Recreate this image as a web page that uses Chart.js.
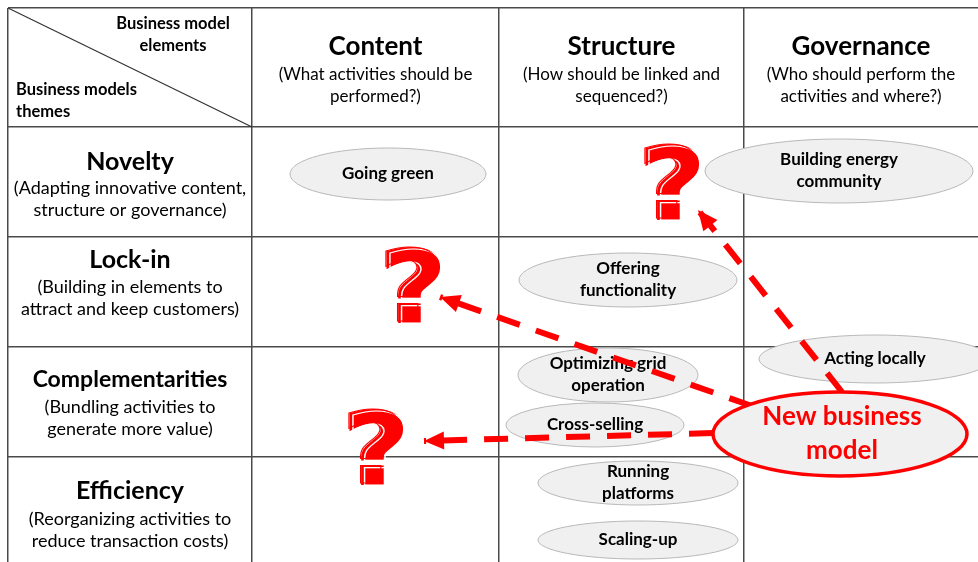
<!DOCTYPE html>
<html>
<head>
<meta charset="utf-8">
<script src="https://cdn.jsdelivr.net/npm/chart.js@4.4.1/dist/chart.umd.min.js"></script>
<style>
  body { margin: 0; background: #fff; }
  #wrap { width: 978px; height: 562px; }
</style>
</head>
<body>
<div id="wrap"><canvas id="grafico" width="978" height="562"></canvas></div>
<script>
// Datos de la matriz
const colTitles = ['Content', 'Structure', 'Governance'];
const colNotes = [
  ['(What activities should be', 'performed?)'],
  ['(How should be linked and', 'sequenced?)'],
  ['(Who should perform the', 'activities and where?)']
];
const rowTitles = ['Novelty', 'Lock-in', 'Complementarities', 'Efficiency'];
const rowNotes = [
  ['(Adapting innovative content,', 'structure or governance)'],
  ['(Building in elements to', 'attract and keep customers)'],
  ['(Bundling activities to', 'generate more value)'],
  ['(Reorganizing activities to', 'reduce transaction costs)']
];
const colEdges = [8, 252, 499, 744];
const rowEdges = [8, 127, 237, 347, 457];

// Actividades (elipses)
const activities = [
  ['Going green'],
  ['Building energy', 'community'],
  ['Offering', 'functionality'],
  ['Optimizing grid', 'operation'],
  ['Cross-selling'],
  ['Acting locally'],
  ['Running', 'platforms'],
  ['Scaling-up']
];
const activityX = [388, 839, 628, 608, 595, 875, 638, 638];
const activityY = [174, 171, 280, 375, 425, 359, 483, 540];
const activityRx = [98, 134, 109, 90, 89, 116, 100, 100];
const activityRy = [26, 32, 27, 27, 22, 24, 22, 19];

// Nuevo modelo de negocio
const centerLabel = ['New business', 'model'];
const centerX = 840, centerY = 434;

// Signos de pregunta y flechas
const questionX = [672, 413, 376];
const questionY = [193, 296, 458];
const arrowFrom = [[842, 392], [752, 406], [713, 433]];
const arrowTo = [[698, 210], [440, 297], [424, 441]];

// posición vertical del texto de cada tema
const titleY = [162, 260, 380, 491];
const noteY = [188, 287, 407, 519];

const FONT = 'Lato, "Open Sans", sans-serif';
const ROJO = '#ff0000';

const datasets = arrowFrom.map((p, i) => ({
  label: 'flecha' + i,
  data: [{ x: p[0], y: p[1] }, { x: arrowTo[i][0], y: arrowTo[i][1] }],
  showLine: true,
  borderColor: ROJO,
  borderWidth: 6,
  borderDash: [24, 17],
  borderCapStyle: 'butt',
  pointRadius: 0
}));
datasets.push({
  label: 'actividades',
  data: activityX.map((x, i) => ({ x: x, y: activityY[i] })),
  pointRadius: 0,
  showLine: false
});
datasets.push({
  label: 'centro',
  data: [{ x: centerX, y: centerY }],
  pointRadius: 0,
  showLine: false
});
datasets.push({
  label: 'preguntas',
  data: questionX.map((x, i) => ({ x: x, y: questionY[i] })),
  pointRadius: 0,
  showLine: false
});

function lines(ctx, arr, x, y, gap) {
  arr.forEach((t, i) => ctx.fillText(t, x, y + i * gap));
}

function ellipse(ctx, x, y, rx, ry, fill, stroke, lw) {
  ctx.beginPath();
  ctx.ellipse(x, y, rx, ry, 0, 0, Math.PI * 2);
  ctx.fillStyle = fill;
  ctx.fill();
  ctx.lineWidth = lw;
  ctx.strokeStyle = stroke;
  ctx.stroke();
}

const matriz = {
  id: 'matriz',
  beforeDatasetsDraw(chart) {
    const ctx = chart.ctx;
    const sx = chart.scales.x, sy = chart.scales.y;
    ctx.save();
    // diagonal
    ctx.beginPath();
    ctx.moveTo(sx.getPixelForValue(colEdges[0]), sy.getPixelForValue(rowEdges[0]));
    ctx.lineTo(sx.getPixelForValue(colEdges[1]), sy.getPixelForValue(rowEdges[1]));
    ctx.strokeStyle = '#333';
    ctx.lineWidth = 1.2;
    ctx.stroke();

    ctx.textBaseline = 'middle';
    ctx.fillStyle = '#000';
    ctx.font = 'bold 16.5px ' + FONT;
    ctx.textAlign = 'center';
    lines(ctx, ['Business model', 'elements'], sx.getPixelForValue(173), sy.getPixelForValue(24), 22);
    ctx.textAlign = 'left';
    lines(ctx, ['Business models', 'themes'], sx.getPixelForValue(16), sy.getPixelForValue(90), 22);

    // cabeceras de columnas
    ctx.textAlign = 'center';
    colTitles.forEach((t, i) => {
      const right = i + 2 < colEdges.length ? colEdges[i + 2] : 978;
      const cx = sx.getPixelForValue((colEdges[i + 1] + right) / 2);
      ctx.font = 'bold 26px ' + FONT;
      ctx.fillText(t, cx, sy.getPixelForValue(47));
      ctx.font = '17px ' + FONT;
      lines(ctx, colNotes[i], cx, sy.getPixelForValue(75), 22);
    });

    // temas
    const cx0 = sx.getPixelForValue((colEdges[0] + colEdges[1]) / 2);
    rowTitles.forEach((t, i) => {
      ctx.font = 'bold ' + (t.length > 12 ? 23 : 25) + 'px ' + FONT;
      ctx.fillText(t, cx0, sy.getPixelForValue(titleY[i]));
      ctx.font = '18px ' + FONT;
      lines(ctx, rowNotes[i], cx0, sy.getPixelForValue(noteY[i]), 22);
    });

    // actividades
    const meta = chart.getDatasetMeta(arrowFrom.length);
    meta.data.forEach((pt, i) => {
      const rx = sx.getPixelForValue(activityX[i] + activityRx[i]) - pt.x;
      const ry = sy.getPixelForValue(activityY[i] + activityRy[i]) - pt.y;
      ellipse(ctx, pt.x, pt.y, rx, Math.abs(ry), '#f0f0f0', '#b8b8b8', 1);
      ctx.fillStyle = '#000';
      ctx.font = 'bold 17px ' + FONT;
      const n = activities[i].length;
      lines(ctx, activities[i], pt.x, pt.y - (n - 1) * 11, 22);
    });
    ctx.restore();
  },
  afterDatasetsDraw(chart) {
    const ctx = chart.ctx;
    const sx = chart.scales.x, sy = chart.scales.y;
    ctx.save();
    // puntas de flecha
    arrowTo.forEach((p, i) => {
      const x1 = sx.getPixelForValue(p[0]), y1 = sy.getPixelForValue(p[1]);
      const x0 = sx.getPixelForValue(arrowFrom[i][0]), y0 = sy.getPixelForValue(arrowFrom[i][1]);
      const a = Math.atan2(y1 - y0, x1 - x0);
      const L = 20, W = 9;
      ctx.beginPath();
      ctx.moveTo(x1, y1);
      ctx.lineTo(x1 - L * Math.cos(a) - W * Math.sin(a), y1 - L * Math.sin(a) + W * Math.cos(a));
      ctx.lineTo(x1 - L * Math.cos(a) + W * Math.sin(a), y1 - L * Math.sin(a) - W * Math.cos(a));
      ctx.closePath();
      ctx.fillStyle = ROJO;
      ctx.fill();
    });

    // nuevo modelo
    const c = chart.getDatasetMeta(arrowFrom.length + 1).data[0];
    ellipse(ctx, c.x, c.y, 127, 42, '#f0f0f0', ROJO, 3.5);
    ctx.fillStyle = ROJO;
    ctx.font = 'bold 26px ' + FONT;
    ctx.textAlign = 'center';
    ctx.textBaseline = 'middle';
    lines(ctx, centerLabel, c.x + 2, c.y - 17, 34);

    // signos de pregunta
    const q = chart.getDatasetMeta(arrowFrom.length + 2);
    ctx.font = 'bold 100px "DejaVu Sans"';
    q.data.forEach(pt => {
      ctx.save();
      ctx.translate(pt.x, pt.y);
      ctx.scale(1.15, 1);
      ctx.fillStyle = ROJO;
      ctx.fillText('?', 0, 0);
      ctx.lineWidth = 2;
      ctx.strokeStyle = ROJO;
      ctx.strokeText('?', 0, 0);
      ctx.lineWidth = 1.2;
      ctx.strokeStyle = '#fff';
      ctx.strokeText('?', 2, 1.5);
      ctx.strokeStyle = ROJO;
      ctx.lineWidth = 1;
      ctx.strokeText('?', -1.5, -1);
      ctx.restore();
    });
    ctx.restore();
  }
};

new Chart(document.getElementById('grafico'), {
  type: 'scatter',
  data: { datasets: datasets },
  options: {
    responsive: false,
    animation: false,
    layout: { padding: { left: 8, top: 8, right: 0, bottom: 0 } },
    plugins: { legend: { display: false }, tooltip: { enabled: false } },
    scales: {
      x: {
        type: 'linear', min: 8, max: 978,
        afterBuildTicks: s => { s.ticks = colEdges.map(v => ({ value: v })); },
        ticks: { display: false },
        grid: { color: '#4a4a4a', lineWidth: 1.5, drawTicks: false, tickLength: 0 },
        border: { display: false }
      },
      y: {
        type: 'linear', min: 8, max: 562, reverse: true,
        afterBuildTicks: s => { s.ticks = rowEdges.map(v => ({ value: v })); },
        ticks: { display: false },
        grid: { color: '#4a4a4a', lineWidth: 1.5, drawTicks: false, tickLength: 0 },
        border: { display: false }
      }
    }
  },
  plugins: [matriz]
});
</script>
</body>
</html>
